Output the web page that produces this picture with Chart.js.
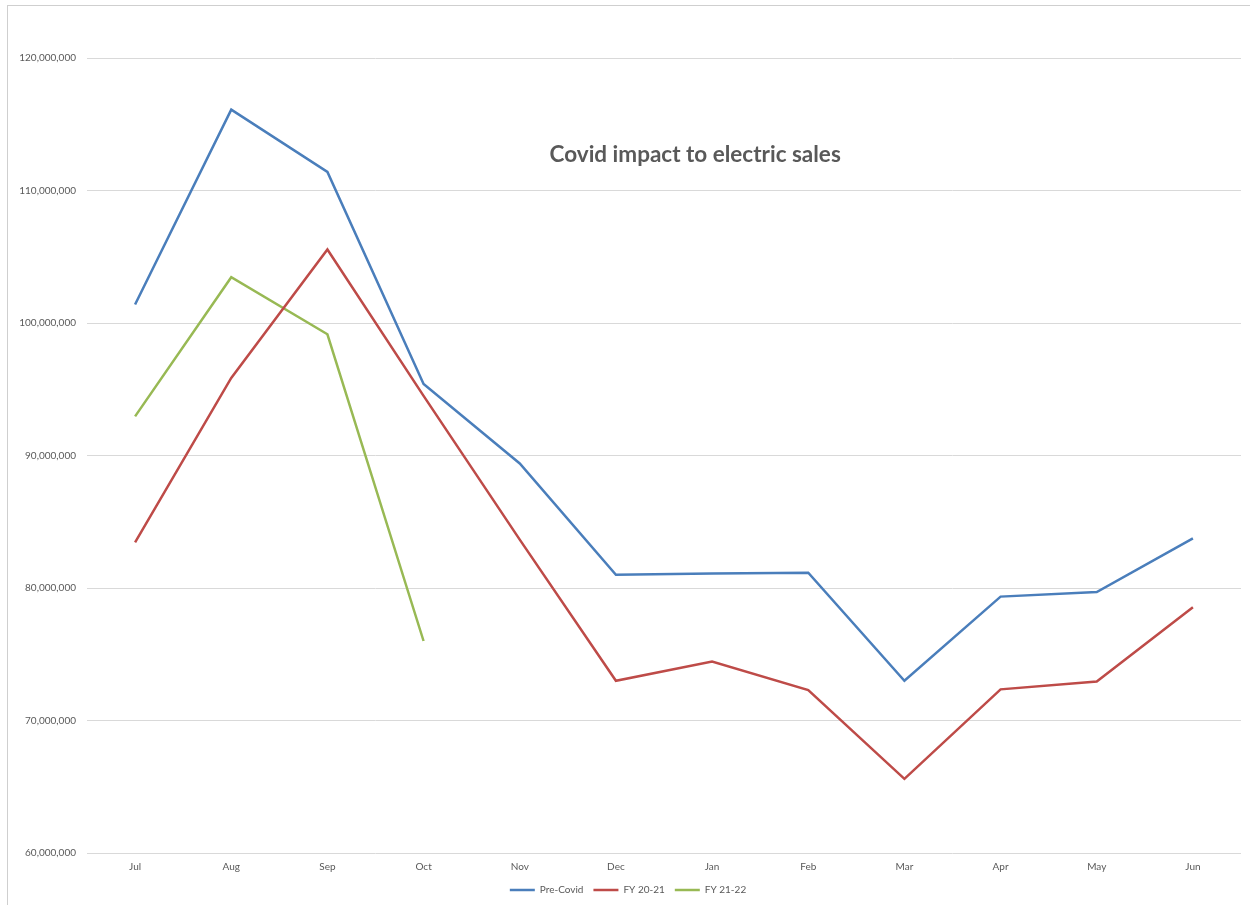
<!DOCTYPE html>
<html>
<head>
<meta charset="utf-8">
<title>Covid impact to electric sales</title>
<script src="https://cdn.jsdelivr.net/npm/chart.js@4.4.1/dist/chart.umd.min.js"></script>
<style>
  html, body { margin: 0; padding: 0; background: #ffffff; }
  #wrap { position: relative; width: 1250px; height: 905px; overflow: hidden; }
  #frame { position: absolute; left: 7px; top: 5px; width: 1260px; height: 920px;
           border-left: 1px solid #cfcfcf; border-top: 1px solid #cfcfcf; box-sizing: border-box; }
  canvas { position: absolute; left: 0; top: 0; }
</style>
</head>
<body>
<div id="wrap">
  <div id="frame"></div>
  <canvas id="chart" width="1250" height="905"></canvas>
</div>
<script>
// Monthly electric sales by fiscal year (July - June)
const months = ['Jul', 'Aug', 'Sep', 'Oct', 'Nov', 'Dec', 'Jan', 'Feb', 'Mar', 'Apr', 'May', 'Jun'];

const preCovid = [101400000, 116100000, 111400000, 95400000, 89400000, 81000000,
                  81100000, 81150000, 73000000, 79350000, 79700000, 83750000];

const fy2021 = [83450000, 95850000, 105550000, 94500000, 83650000, 73000000,
                74450000, 72300000, 65600000, 72350000, 72950000, 78550000];

const fy2122 = [92950000, 103450000, 99150000, 76000000];

const yTicks = { min: 60000000, max: 120000000, step: 10000000 };

const chartTitle = 'Covid impact to electric sales';

const seriesNames = ['Pre-Covid', 'FY 20-21', 'FY 21-22'];
const seriesColors = ['#4a7ebb', '#be4b48', '#98b954'];

const uiFont = 'Lato, "Open Sans", "Liberation Sans", sans-serif';

// Title sits inside the plot area, as a floating text box
const floatingTitle = {
  id: 'floatingTitle',
  afterDraw(chart) {
    const { ctx, chartArea } = chart;
    ctx.save();
    ctx.font = 'bold 22.5px ' + uiFont;
    ctx.fillStyle = '#595959';
    ctx.textAlign = 'center';
    ctx.textBaseline = 'middle';
    const x = chartArea.left + chartArea.width * 0.527;
    const y = chartArea.top + chartArea.height * 0.122;
    ctx.fillText(chartTitle, x, y);
    ctx.restore();
  }
};

const seriesData = [preCovid, fy2021, fy2122];

new Chart(document.getElementById('chart'), {
  type: 'line',
  data: {
    labels: months,
    datasets: seriesData.map((values, i) => ({
      label: seriesNames[i],
      data: values,
      borderColor: seriesColors[i],
      backgroundColor: seriesColors[i],
      borderWidth: 2.5,
      pointRadius: 0,
      pointHoverRadius: 0,
      tension: 0,
      fill: false
    }))
  },
  options: {
    responsive: false,
    animation: false,
    layout: { padding: { left: 15, right: 9, top: 58, bottom: 0 } },
    plugins: {
      title: { display: false },
      tooltip: { enabled: false },
      legend: {
        position: 'bottom',
        align: 'center',
        maxHeight: 31,
        labels: {
          usePointStyle: true,
          pointStyle: 'line',
          pointStyleWidth: 25,
          padding: 10,
          color: '#595959',
          font: { family: uiFont, size: 10 }
        }
      }
    },
    scales: {
      x: {
        offset: true,
        grid: { display: false, drawTicks: false },
        border: { display: false },
        ticks: {
          color: '#595959',
          padding: 8,
          font: { family: uiFont, size: 10 },
          maxRotation: 0,
          autoSkip: false
        },
        afterFit(scale) { scale.height = 22; }
      },
      y: {
        min: yTicks.min,
        max: yTicks.max,
        grid: { color: '#d9d9d9', lineWidth: 1, drawTicks: false },
        border: { display: false },
        ticks: {
          stepSize: yTicks.step,
          color: '#595959',
          padding: 11,
          font: { family: uiFont, size: 10 },
          callback: (v) => Number(v).toLocaleString('en-US')
        },
        afterFit(scale) { scale.width = 72; }
      }
    }
  },
  plugins: [floatingTitle]
});
</script>
</body>
</html>
